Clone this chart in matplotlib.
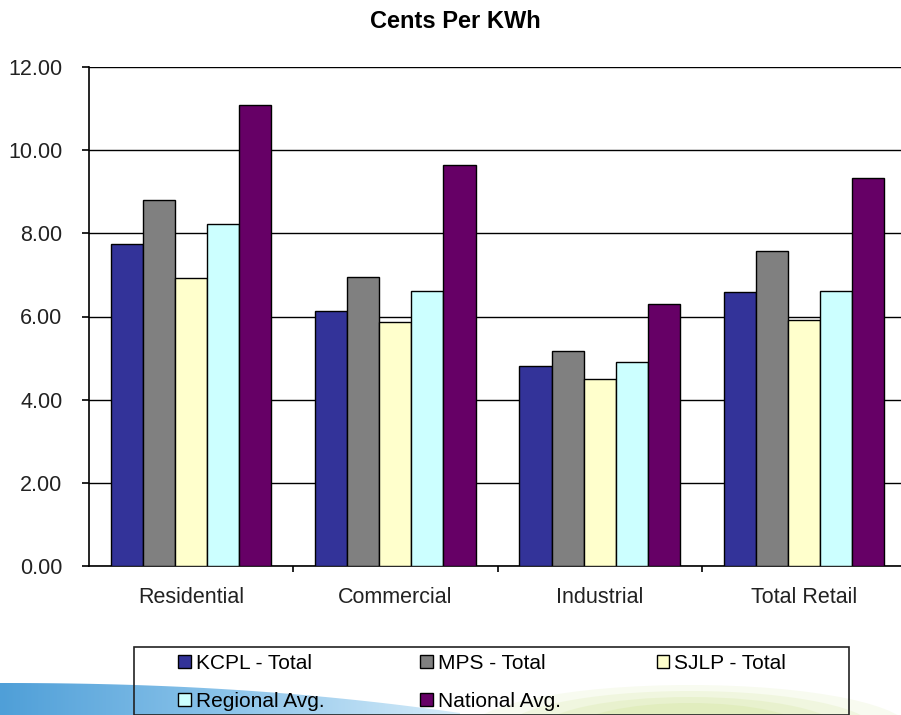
import numpy as np
import matplotlib.pyplot as plt
from matplotlib.patches import Rectangle, Ellipse, Polygon
from matplotlib.colors import LinearSegmentedColormap

plt.rcParams['font.family'] = ['Liberation Sans', 'DejaVu Sans']

# Datos
categorias = ['Residential', 'Commercial', 'Industrial', 'Total Retail']
series = ['KCPL - Total', 'MPS - Total', 'SJLP - Total', 'Regional Avg.', 'National Avg.']
kcpl = [7.74, 6.14, 4.82, 6.59]
mps = [8.81, 6.94, 5.17, 7.58]
sjlp = [6.93, 5.86, 4.50, 5.92]
regional = [8.22, 6.62, 4.90, 6.62]
nacional = [11.09, 9.65, 6.30, 9.33]
colores = ['#333399', '#808080', '#FFFFCC', '#CCFFFF', '#660066']
yticks = [0, 2, 4, 6, 8, 10, 12]

W, H = 901, 715
fig = plt.figure(figsize=(W / 100, H / 100), dpi=100)

# Fondo decorativo (la "ola" de la diapositiva)
bg = fig.add_axes([0, 0, 1, 1], zorder=-5)
bg.set_xlim(0, W)
bg.set_ylim(H, 0)
bg.axis('off')
xs = np.linspace(0, 460, 60)
top = 683 + 30 * (xs / 460) ** 2.2
verts = np.vstack([np.column_stack([xs, top]), [[460, H], [0, H]]])
ola = Polygon(verts, closed=True, facecolor='none', edgecolor='none')
bg.add_patch(ola)
grad = np.linspace(0, 1, 256)[None, :]
cmap_ola = LinearSegmentedColormap.from_list('ola', ['#4f9fd8', '#8cc4ea', '#d6ecf9'])
img = bg.imshow(grad, extent=[0, 460, H, 680], cmap=cmap_ola, aspect='auto', zorder=0)
img.set_clip_path(ola)
for k, a in enumerate([0.15, 0.2, 0.25, 0.3]):
    e = Ellipse((690, 730), 440 - 70 * k, 90 - 12 * k, facecolor='#d2e69c', edgecolor='none', alpha=a)
    bg.add_patch(e)

ax = fig.add_axes([89 / W, 149 / H, (906 - 89) / W, 499 / H])
x = np.arange(len(categorias))
ancho = 0.157
datos = [kcpl, mps, sjlp, regional, nacional]
for i, (vals, nombre) in enumerate(zip(datos, series)):
    ax.bar(x + (i - 2) * ancho, vals, ancho, color=colores[i], edgecolor='black',
           linewidth=1.0, label=nombre, zorder=3)

ax.set_xlim(-0.5, 3.5)
ax.set_ylim(0, 12)
ax.set_yticks(yticks)
ax.set_yticklabels([f'{v:.2f}' for v in yticks], fontsize=15.5, color='#222222')
ax.set_xticks(x)
ax.set_xticklabels(categorias, fontsize=15.5, color='#222222')
ax.set_xticks([0.5, 1.5, 2.5], minor=True)
ax.tick_params(axis='x', which='major', length=0, pad=15)
ax.tick_params(axis='x', which='minor', length=4, width=1.2, direction='out')
ax.tick_params(axis='y', length=5, width=1.2, direction='out', pad=14)
ax.yaxis.grid(True, color='black', linewidth=1.0)
ax.set_axisbelow(True)
for lado in ['top', 'right']:
    ax.spines[lado].set_visible(False)
for lado in ['left', 'bottom']:
    ax.spines[lado].set_linewidth(1.2)
ax.patch.set_alpha(0)

fig.text(455 / W, 1 - 21 / H, 'Cents Per KWh', ha='center', va='center',
         fontsize=17, fontweight='bold')

# Leyenda (orden por filas: se reordena para 3 columnas)
handles, labels = ax.get_legend_handles_labels()
orden = [0, 3, 1, 4, 2]
fig.legend([handles[i] for i in orden], [labels[i] for i in orden], ncol=3,
           loc='upper left', bbox_to_anchor=(178 / W, 1 - 654 / H), frameon=False,
           fontsize=15, handlelength=0.6, handleheight=0.6, handletextpad=0.25,
           columnspacing=4.6, labelspacing=0.9, borderpad=0, borderaxespad=0)
fig.patches.append(Rectangle((134 / W, 0), (849 - 134) / W, (H - 647) / H,
                             transform=fig.transFigure, facecolor='none',
                             edgecolor='#222222', linewidth=1.2))

plt.savefig('out.png', dpi=100)
